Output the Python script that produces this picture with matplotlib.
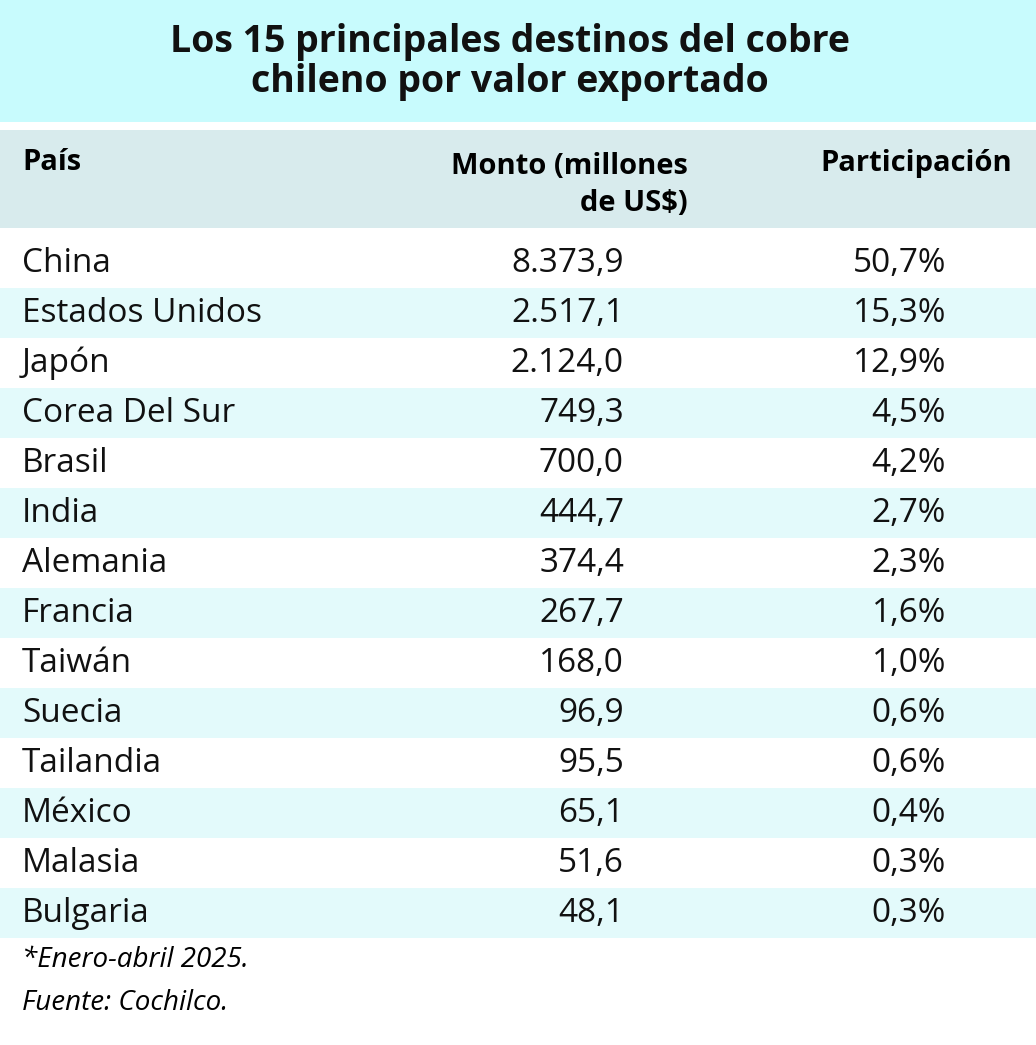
import matplotlib.pyplot as plt
from matplotlib.patches import Rectangle

title = "Los 15 principales destinos del cobre\nchileno por valor exportado"
headers = ["País", "Monto (millones\nde US$)", "Participación"]
paises = ["China", "Estados Unidos", "Japón", "Corea Del Sur", "Brasil", "India",
          "Alemania", "Francia", "Taiwán", "Suecia", "Tailandia", "México",
          "Malasia", "Bulgaria"]
montos = ["8.373,9", "2.517,1", "2.124,0", "749,3", "700,0", "444,7", "374,4",
          "267,7", "168,0", "96,9", "95,5", "65,1", "51,6", "48,1"]
partic = ["50,7%", "15,3%", "12,9%", "4,5%", "4,2%", "2,7%", "2,3%", "1,6%",
          "1,0%", "0,6%", "0,6%", "0,4%", "0,3%", "0,3%"]
notas = ["*Enero-abril 2025.", "Fuente: Cochilco."]

W, H = 1036, 1045
plt.rcParams['font.family'] = ['Open Sans', 'DejaVu Sans']
fig = plt.figure(figsize=(W / 100, H / 100), dpi=100)
ax = fig.add_axes([0, 0, 1, 1])
ax.set_xlim(0, W)
ax.set_ylim(H, 0)
ax.axis('off')

# title band
ax.add_patch(Rectangle((0, 0), W, 122, color='#c8fbfd', lw=0))
ax.text(W / 2 - 8, 62, title, ha='center', va='center', fontsize=27,
        fontweight='bold', color='#111111', linespacing=1.05)

# header
ax.add_patch(Rectangle((0, 130), W, 98, color='#d8ebed', lw=0))
ax.text(22, 163, headers[0], ha='left', va='center', fontsize=21, fontweight='bold')
ax.text(688, 185, headers[1], ha='right', va='center', fontsize=21,
        fontweight='bold', linespacing=1.4)
ax.text(1012, 163, headers[2], ha='right', va='center', fontsize=21, fontweight='bold')

row_h = 50
y0 = 238
for i, (p, m, s) in enumerate(zip(paises, montos, partic)):
    top = y0 + i * row_h
    if i % 2 == 1:
        ax.add_patch(Rectangle((0, top), W, row_h, color='#e3fafb', lw=0))
    yc = top + row_h / 2
    ax.text(22, yc, p, ha='left', va='center', fontsize=24, color='#111111')
    ax.text(624, yc, m, ha='right', va='center', fontsize=24, color='#111111')
    ax.text(946, yc, s, ha='right', va='center', fontsize=24, color='#111111')

ax.text(22, 960, notas[0], ha='left', va='center', fontsize=20, style='italic')
ax.text(22, 1003, notas[1], ha='left', va='center', fontsize=20, style='italic')

fig.savefig('out.png', dpi=100)
